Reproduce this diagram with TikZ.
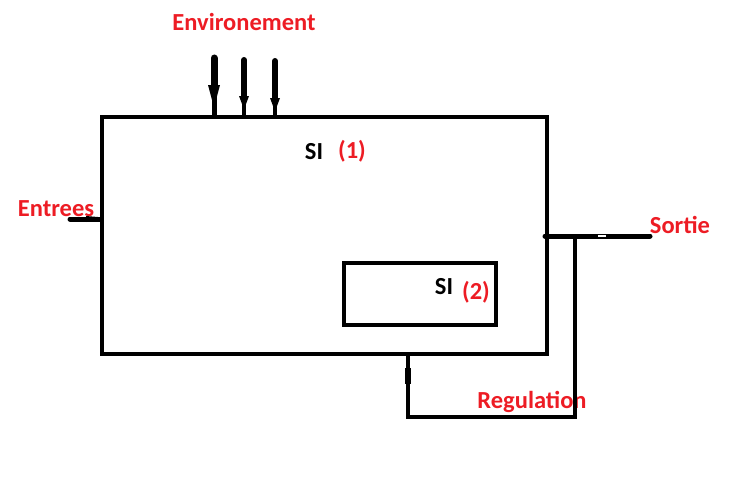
\documentclass[tikz,border=0pt]{standalone}
\usepackage{fontspec}
\setmainfont{Carlito}
\usetikzlibrary{arrows.meta,calc}
\definecolor{pred}{RGB}{237,28,36}
\begin{document}
\begin{tikzpicture}[x=1pt,y=-1pt,
  lbl/.style={text=pred,font=\bfseries\fontsize{24.5}{28}\selectfont,inner sep=0pt},
  blk/.style={text=black,font=\bfseries\fontsize{24.5}{28}\selectfont,inner sep=0pt},
  wire/.style={line width=4pt},
  sysbox/.style={draw=black,line width=4pt,inner sep=0pt}]
\useasboundingbox (0,0) rectangle (741,487);
% main box
\node[sysbox,minimum width=445pt,minimum height=237pt] (si1) at (324.5,235.5) {};
\node[sysbox,minimum width=152pt,minimum height=62pt] (si2) at (420,294) {};
% labels
\node[lbl] (env) at (244,22) {Environement};
\node[lbl] (ent) at (56,209) {Entrees};
\node[lbl] (sor) at (680,225) {Sortie};
\node[lbl] (reg) at (532,402) {Regulation};
\node[blk] (t1) at (314,152) {SI};
\node[lbl] (n1) at (352,151) {(1)};
\node[blk] (t2) at (444,287) {SI};
\node[lbl] (n2) at (476,292) {(2)};
% coordinates
\coordinate (a1s) at (214,58);  \coordinate (a1e) at (214,115);
\coordinate (a2s) at (244,60);  \coordinate (a2e) at (244,115);
\coordinate (a3s) at (275,61);  \coordinate (a3e) at (275,115);
\coordinate (es) at (70,219); \coordinate (ee) at (100,219);
\coordinate (ss) at (545,236); \coordinate (se) at (650,236);
\coordinate (r1) at (575,236); \coordinate (r2) at (575,417);
\coordinate (r3) at (408,417); \coordinate (r4) at (408,356);
% environment arrows
\draw[line width=7pt,line cap=round] (a1s) -- ($(a1s)!0.5!(a1e)$);
\draw[line width=5pt] (a1s) -- (a1e);
\fill (208,85) -- (220,85) -- (216,100) -- (212,100) -- cycle;
\draw[line width=6pt,line cap=round] (a2s) -- (244,96);
\draw[line width=4pt] (a2s) -- (a2e);
\fill (239,96) -- (249,96) -- (246,104) -- (242,104) -- cycle;
\draw[line width=6pt,line cap=round] (a3s) -- (275,98);
\draw[line width=4pt] (a3s) -- (a3e);
\fill (270,98) -- (280,98) -- (277,106) -- (273,106) -- cycle;
% entrees
\draw[line width=5pt,line cap=round] (es) -- (ee);
\fill (86,216) -- (98,217) -- (98,221) -- (86,222) -- cycle;
% sortie
\draw[line width=5pt,line cap=round] (ss) -- (se);
\fill[white] (598,235) rectangle (606,237);
% regulation loop
\draw[wire] (r1) -- (r2) -- (r3) -- (r4);
\draw[line width=6pt] (408,368) -- (408,384);
\end{tikzpicture}
\end{document}
